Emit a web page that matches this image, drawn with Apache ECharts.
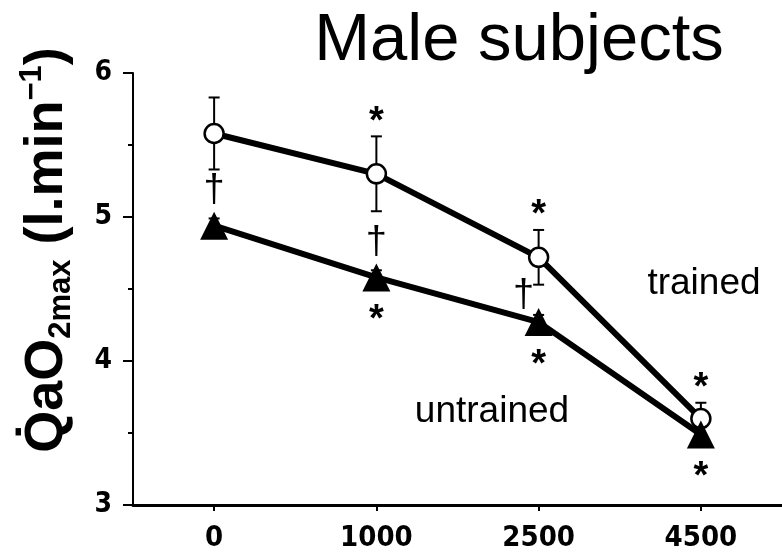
<!DOCTYPE html>
<html>
<head>
<meta charset="utf-8">
<script src="https://cdn.jsdelivr.net/npm/echarts@6/dist/echarts.min.js"></script>
<style>
  html, body { margin: 0; padding: 0; background: #fff; }
  #chart { width: 782px; height: 555px; }
</style>
</head>
<body>
<div id="chart"></div>
<script>
// Altitude categories (m) and arterial O2 delivery (l.min-1), mean and SD
const altitudes = ['0', '1000', '2500', '4500'];
const trainedMean = [5.58, 5.30, 4.72, 3.60];
const trainedSD = [0.25, 0.26, 0.19, 0.11];
const untrainedMean = [4.94, 4.58, 4.27, 3.49];
const untrainedSD = [0.05, 0.05, 0.05, 0.05];
const yTicks = [3, 4, 5, 6];

// Significance marks: * vs sea level, † trained vs untrained
const trainedStars = ['', '*', '*', '*'];
const untrainedStars = ['', '*', '*', '*'];
const daggers = ['\u2020', '\u2020', '\u2020', ''];

const tickFont = "'DejaVu Sans', sans-serif";
const sans = "'Liberation Sans', Arial, sans-serif";

function errorBars(means, sds, z) {
  return {
    type: 'custom',
    z: z,
    silent: true,
    data: means.map((m, i) => [i, m - sds[i], m + sds[i]]),
    renderItem(params, api) {
      const i = api.value(0);
      const lo = api.coord([i, api.value(1)]);
      const hi = api.coord([i, api.value(2)]);
      const half = 5.5;
      const style = { stroke: '#000', lineWidth: 2, fill: null };
      return {
        type: 'group',
        children: [
          { type: 'line', shape: { x1: lo[0], y1: lo[1], x2: hi[0], y2: hi[1] }, style },
          { type: 'line', shape: { x1: hi[0] - half, y1: hi[1], x2: hi[0] + half, y2: hi[1] }, style },
          { type: 'line', shape: { x1: lo[0] - half, y1: lo[1], x2: lo[0] + half, y2: lo[1] }, style }
        ]
      };
    }
  };
}

function markSeries(glyphs, anchors, fontSize, fontWeight, offset, tweak) {
  const data = [];
  glyphs.forEach((g, i) => {
    if (!g) return;
    const item = { value: [i, anchors[i]], glyph: g };
    if (tweak && tweak[i]) item.label = tweak[i];
    data.push(item);
  });
  return {
    type: 'scatter',
    symbolSize: 1,
    silent: true,
    z: 6,
    itemStyle: { color: 'rgba(0,0,0,0)' },
    emphasis: { disabled: true },
    data: data,
    label: {
      show: true,
      position: 'inside',
      offset: offset,
      formatter: p => p.data.glyph,
      fontSize: fontSize,
      fontWeight: fontWeight,
      fontFamily: sans,
      color: '#000',
      opacity: 1
    }
  };
}

const chart = echarts.init(document.getElementById('chart'), null, { renderer: 'canvas' });

chart.setOption({
  animation: false,
  backgroundColor: '#fff',
  title: {
    text: 'Male subjects',
    left: 519,
    top: 8,
    padding: 0,
    textAlign: 'center',
    textStyle: { fontFamily: sans, fontSize: 67, fontWeight: 'normal', color: '#000' }
  },
  grid: { left: 133, right: -3, top: 73, bottom: 50, containLabel: false },
  xAxis: {
    type: 'category',
    data: altitudes,
    boundaryGap: true,
    axisLine: { show: true, lineStyle: { color: '#000', width: 3 } },
    axisTick: { show: true, alignWithLabel: true, length: 6, lineStyle: { color: '#000', width: 2 } },
    axisLabel: { margin: 19, fontFamily: tickFont, fontWeight: 'bold condensed', fontSize: 29, color: '#000' },
    splitLine: { show: false }
  },
  yAxis: {
    type: 'value',
    min: yTicks[0],
    max: yTicks[yTicks.length - 1],
    interval: 1,
    axisLine: { show: true, lineStyle: { color: '#000', width: 2 } },
    axisTick: { show: true, length: 10, lineStyle: { color: '#000', width: 2 } },
    minorTick: { show: true, splitNumber: 2, length: 5, lineStyle: { color: '#000', width: 2 } },
    splitLine: { show: false },
    minorSplitLine: { show: false },
    axisLabel: { margin: 21, fontFamily: tickFont, fontWeight: 'bold condensed', fontSize: 28, color: '#000' }
  },
  series: [
    errorBars(trainedMean, trainedSD, 1),
    errorBars(untrainedMean, untrainedSD, 1),
    {
      name: 'trained',
      type: 'line',
      z: 3,
      data: trainedMean,
      symbol: 'circle',
      symbolSize: 19,
      lineStyle: { color: '#000', width: 6 },
      itemStyle: { color: '#fff', borderColor: '#000', borderWidth: 2.5 }
    },
    {
      name: 'untrained',
      type: 'line',
      z: 4,
      data: untrainedMean,
      symbol: 'triangle',
      symbolSize: [28, 28],
      lineStyle: { color: '#000', width: 6 },
      itemStyle: { color: '#000', borderWidth: 0 }
    },
    markSeries(trainedStars, trainedMean.map((m, i) => m + trainedSD[i]), 38, 'bold', [0, -14]),
    markSeries(untrainedStars, untrainedMean, 38, 'bold', [0, 43]),
    // the 2500 m dagger sits left of the trained error bar
    markSeries(daggers, untrainedMean, 38, 'normal', [0, -35], { 2: { offset: [-15, -27] } })
  ],
  graphic: [
    {
      type: 'text',
      x: 47,
      y: 250,
      rotation: Math.PI / 2,
      style: {
        text: '{m|Q\u0307aO}{sub|2max}{m| (l.min}{sup|\u22121}{m|)}',
        align: 'center',
        verticalAlign: 'middle',
        fill: '#000',
        rich: {
          m: { fontFamily: sans, fontWeight: 'bold', fontSize: 54, lineHeight: 60, fill: '#000' },
          sub: { fontFamily: sans, fontWeight: 'bold', fontSize: 31, lineHeight: 17, verticalAlign: 'bottom', fill: '#000' },
          sup: { fontFamily: sans, fontWeight: 'bold', fontSize: 31, lineHeight: 41, verticalAlign: 'top', fill: '#000' }
        }
      }
    },
    {
      type: 'text',
      x: 704,
      y: 284,
      style: { text: 'trained', fontFamily: sans, fontSize: 37, fill: '#000', align: 'center', verticalAlign: 'middle' }
    },
    {
      type: 'text',
      x: 492,
      y: 412,
      style: { text: 'untrained', fontFamily: sans, fontSize: 37, fill: '#000', align: 'center', verticalAlign: 'middle' }
    }
  ]
});
</script>
</body>
</html>
